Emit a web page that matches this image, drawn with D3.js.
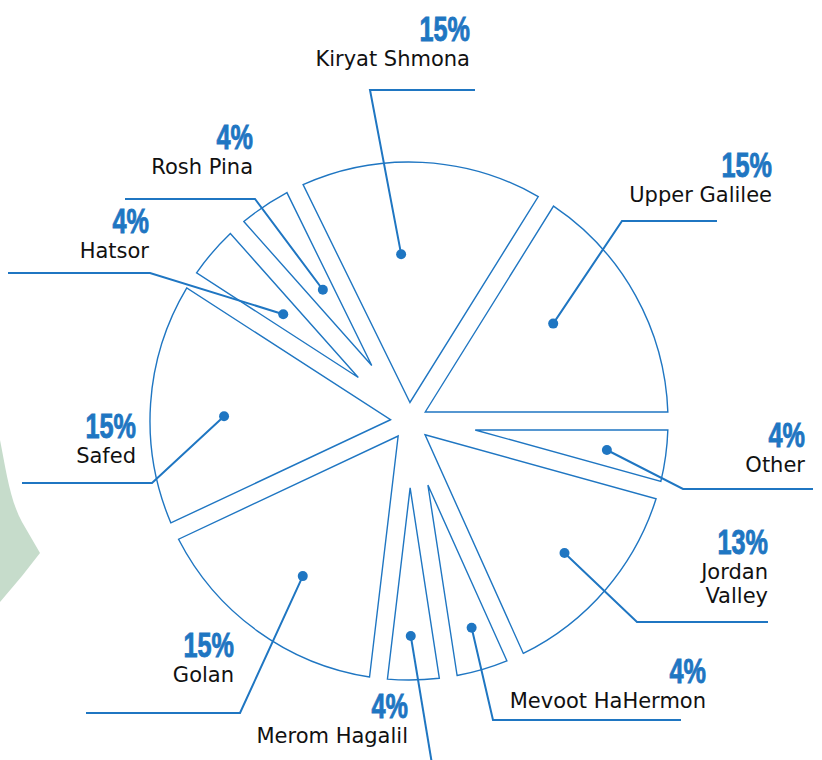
<!DOCTYPE html>
<html>
<head>
<meta charset="utf-8">
<script src="https://cdn.jsdelivr.net/npm/d3@7"></script>
<style>
  html, body { margin: 0; padding: 0; background: #fff; }
  svg { display: block; }
</style>
</head>
<body>
<div id="chart"></div>
<script>
// regions, clockwise from 12 o'clock
const regions = ['Kiryat Shmona', 'Upper Galilee', 'Other', 'Jordan Valley', 'Mevoot HaHermon',
  'Merom Hagalil', 'Golan', 'Safed', 'Hatsor', 'Rosh Pina']
const shares = [15, 15, 4, 13, 4, 4, 15, 15, 4, 4]
const nameLines = [['Kiryat Shmona'], ['Upper Galilee'], ['Other'], ['Jordan', 'Valley'], ['Mevoot HaHermon'],
  ['Merom Hagalil'], ['Golan'], ['Safed'], ['Hatsor'], ['Rosh Pina']]

// label placement (dot: angle tweak in deg from slice middle + radius; elbow; end of underline; text anchor)
const labelLayout = [
  { da: -5.6, r: 167, elbow: [370, 90],  end: 475, tx: 470, ty: 41 },
  { da: -5.0, r: 174, elbow: [622, 221], end: 717, tx: 772, ty: 177 },
  { da: 0.6,  r: 200, elbow: [683, 489], end: 813, tx: 805, ty: 447 },
  { da: -0.3, r: 204, elbow: [637, 622], end: 768, tx: 768, ty: 554 },
  { da: -0.4, r: 216, elbow: [493, 720], end: 681, tx: 706, ty: 683 },
  { da: 0.5,  r: 215, elbow: [433, 770], end: 433, tx: 408, ty: 718 },
  { da: -1.4, r: 188, elbow: [240, 713], end: 86,  tx: 234, ty: 657 },
  { da: -2.4, r: 185, elbow: [152, 483], end: 22,  tx: 136, ty: 438 },
  { da: -0.3, r: 165, elbow: [150, 273], end: 8,   tx: 149, ty: 233 },
  { da: 0.6,  r: 157, elbow: [255, 199], end: 125, tx: 253, ty: 149 },
]

const BLUE = '#1f76c2'
const width = 822, height = 760
const cx = 409, cy = 421, R = 259, pad = 9

const svg = d3.select('#chart').append('svg')
  .attr('width', width)
  .attr('height', height)

// pale map fragment at the left edge
svg.append('path')
  .attr('d', 'M0,440 C6,470 10,500 22,522 L40,553 L22,576 L0,602 Z')
  .attr('fill', '#c6dccb')

const pie = d3.pie().sort(null).value(d => d)
  .startAngle(-0.4561)
  .endAngle(-0.4561 + 2 * Math.PI)
const arcs = pie(shares)

const polar = (a, r) => [cx + r * Math.sin(a), cy - r * Math.cos(a)]

// slice with constant-width gaps: edges parallel to the radii
function slicePath(d) {
  const half = (d.endAngle - d.startAngle) / 2
  const mid = d.startAngle + half
  const apex = polar(mid, pad / Math.sin(half))
  const dOut = Math.asin(pad / R)
  const a0 = d.startAngle + dOut, a1 = d.endAngle - dOut
  const p = d3.path()
  p.moveTo(apex[0], apex[1])
  const s = polar(a0, R)
  p.lineTo(s[0], s[1])
  p.arc(cx, cy, R, a0 - Math.PI / 2, a1 - Math.PI / 2)
  p.closePath()
  return p.toString()
}

svg.append('g')
  .selectAll('path')
  .data(arcs)
  .join('path')
  .attr('d', slicePath)
  .attr('fill', 'none')
  .attr('stroke', BLUE)
  .attr('stroke-width', 1.4)
  .attr('stroke-linejoin', 'miter')

// leader lines + dots
const leaders = svg.append('g')
arcs.forEach((d, i) => {
  const L = labelLayout[i]
  const mid = (d.startAngle + d.endAngle) / 2 + L.da * Math.PI / 180
  const dot = polar(mid, L.r)
  leaders.append('polyline')
    .attr('points', [dot, L.elbow, [L.end, L.elbow[1]]].map(p => p.join(',')).join(' '))
    .attr('fill', 'none')
    .attr('stroke', BLUE)
    .attr('stroke-width', 2)
  leaders.append('circle')
    .attr('cx', dot[0]).attr('cy', dot[1])
    .attr('r', 5)
    .attr('fill', BLUE)
})

// labels
const labels = svg.append('g')
arcs.forEach((d, i) => {
  const L = labelLayout[i]
  labels.append('text')
    .attr('transform', `translate(${L.tx},${L.ty}) scale(0.72,1)`)
    .attr('text-anchor', 'end')
    .attr('font-family', '"Liberation Sans", Arial, sans-serif')
    .attr('font-weight', 700)
    .attr('font-size', 35)
    .attr('fill', BLUE)
    .attr('stroke', BLUE)
    .attr('stroke-width', 0.9)
    .text(shares[i] + '%')
  nameLines[i].forEach((line, j) => {
    labels.append('text')
      .attr('x', L.tx)
      .attr('y', L.ty + 25 + j * 24)
      .attr('text-anchor', 'end')
      .attr('font-family', '"DejaVu Sans", sans-serif')
      .attr('font-size', 21)
      .attr('fill', '#111')
      .text(line)
  })
})
</script>
</body>
</html>
